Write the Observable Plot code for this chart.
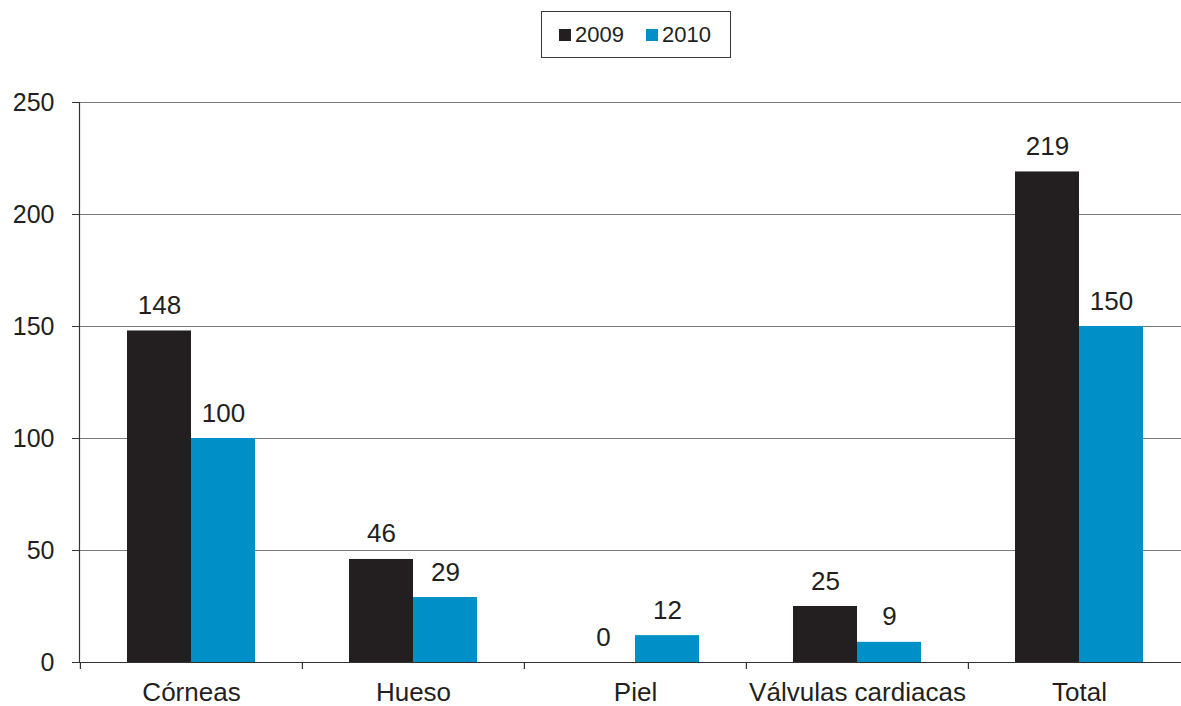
<!DOCTYPE html>
<html>
<head>
<meta charset="utf-8">
<script src="https://cdn.jsdelivr.net/npm/d3@7"></script>
<script src="https://cdn.jsdelivr.net/npm/@observablehq/plot@0.6"></script>
<style>
  html, body { margin: 0; padding: 0; background: #fff; }
  body { width: 1181px; font-family: "Liberation Sans", Arial, Helvetica, sans-serif; }
  #legend { position: relative; height: 70px; }
  #legend .box { position: absolute; left: 541px; top: 11px; width: 188px; height: 45px; border: 1.5px solid #3a3a3a; }
  #legend .item { position: absolute; top: 0; height: 45px; display: flex; align-items: center; font-size: 22px; color: #231f20; }
  #legend .sw { width: 12px; height: 12px; margin-right: 4px; }
  #chart svg { display: block; overflow: visible; }
</style>
</head>
<body>
<div id="legend"><div class="box"></div></div>
<div id="chart"></div>
<script>
const categories = ["Córneas", "Hueso", "Piel", "Válvulas cardiacas", "Total"];
const years = ["2009", "2010"];
const values2009 = [148, 46, 0, 25, 219];
const values2010 = [100, 29, 12, 9, 150];
const yTicks = [0, 50, 100, 150, 200, 250];
const colors = ["#231f20", "#0090c8"];

const data = categories.flatMap((c, i) => [
  {cat: c, year: years[0], value: values2009[i]},
  {cat: c, year: years[1], value: values2010[i]}
]);
const d0 = data.filter(d => d.year === years[0]);
const d1 = data.filter(d => d.year === years[1]);

// Legend (HTML)
const box = document.querySelector("#legend .box");
const legendX = [17, 104];
years.forEach((y, i) => {
  const it = document.createElement("div");
  it.className = "item";
  it.style.left = legendX[i] + "px";
  it.innerHTML = `<span class="sw" style="background:${colors[i]}"></span><span>${y}</span>`;
  box.appendChild(it);
});

const font = "Liberation Sans, Arial, Helvetica, sans-serif";
const chart = Plot.plot({
  width: 1181,
  height: 636,
  marginLeft: 79,
  marginRight: 0,
  marginTop: 32,
  marginBottom: 44,
  style: {fontFamily: font, fontSize: "26px", color: "#231f20", background: "white"},
  x: {type: "band", domain: categories, range: [79, 1190], paddingInner: 0.424, paddingOuter: 0.212},
  y: {domain: [0, 250], range: [592, 32]},
  color: {domain: years, range: colors},
  marks: [
    Plot.ruleY(yTicks.filter(d => d > 0), {stroke: "#7a7a7a", strokeWidth: 1}),
    Plot.barY(d0, {x: "cat", y: "value", fill: "year", insetRight: 64}),
    Plot.barY(d1, {x: "cat", y: "value", fill: "year", insetLeft: 64}),
    Plot.ruleY([0], {stroke: "#333", strokeWidth: 1.2}),
    Plot.frame({anchor: "left", stroke: "#333", strokeWidth: 1.2}),
    Plot.ruleX(categories, {x: d => d, dx: -111.1, y1: 0, y2: 0, insetBottom: -7, stroke: "#333", strokeWidth: 1.2}),
    Plot.text(d0, {x: "cat", y: "value", text: d => String(d.value), dx: -32, dy: -17, lineAnchor: "bottom", fill: "#231f20", fontSize: 26}),
    Plot.text(d1, {x: "cat", y: "value", text: d => String(d.value), dx: 32, dy: -17, lineAnchor: "bottom", fill: "#231f20", fontSize: 26}),
    Plot.axisY({ticks: yTicks, tickSize: 7, tickPadding: 18, label: null, fontSize: 25, stroke: "#333"}),
    Plot.axisX({tickSize: 0, tickPadding: 20, label: null, fontSize: 26})
  ]
});
document.getElementById("chart").appendChild(chart);
</script>
</body>
</html>
